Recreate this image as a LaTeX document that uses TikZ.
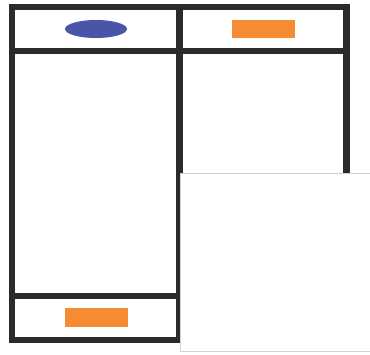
\documentclass[tikz,border=0pt]{standalone}
\begin{document}
\begin{tikzpicture}[x=1pt,y=-1pt]
\definecolor{barcol}{HTML}{2B2B2B}
\definecolor{ovalblue}{HTML}{4B55A8}
\definecolor{tagorange}{HTML}{F58B33}
\tikzset{bar/.style={draw=barcol,line width=6.5pt},
  tag/.style={fill=tagorange,draw=none}}
\useasboundingbox (0,0) rectangle (370,354);
\fill[white] (0,0) rectangle (370,354);
% frame
\draw[bar] (12,7) rectangle (346.5,340);
\draw[bar,line width=6pt] (12,50.5) -- (346.5,50.5);
\draw[bar,line width=6pt] (12,295.5) -- (346.5,295.5);
\draw[bar] (179.5,7) -- (179.5,340);
% marks
\fill[ovalblue] (96,29) ellipse (31 and 9);
\fill[tag] (232,20) rectangle (295,38);
\fill[tag] (65,308) rectangle (128,327);
% overlay
\fill[white] (180,173) rectangle (372,351);
\draw[draw=black!18,line width=0.8pt] (372,173) -- (180,173) -- (180,351) -- (372,351);
\end{tikzpicture}
\end{document}
